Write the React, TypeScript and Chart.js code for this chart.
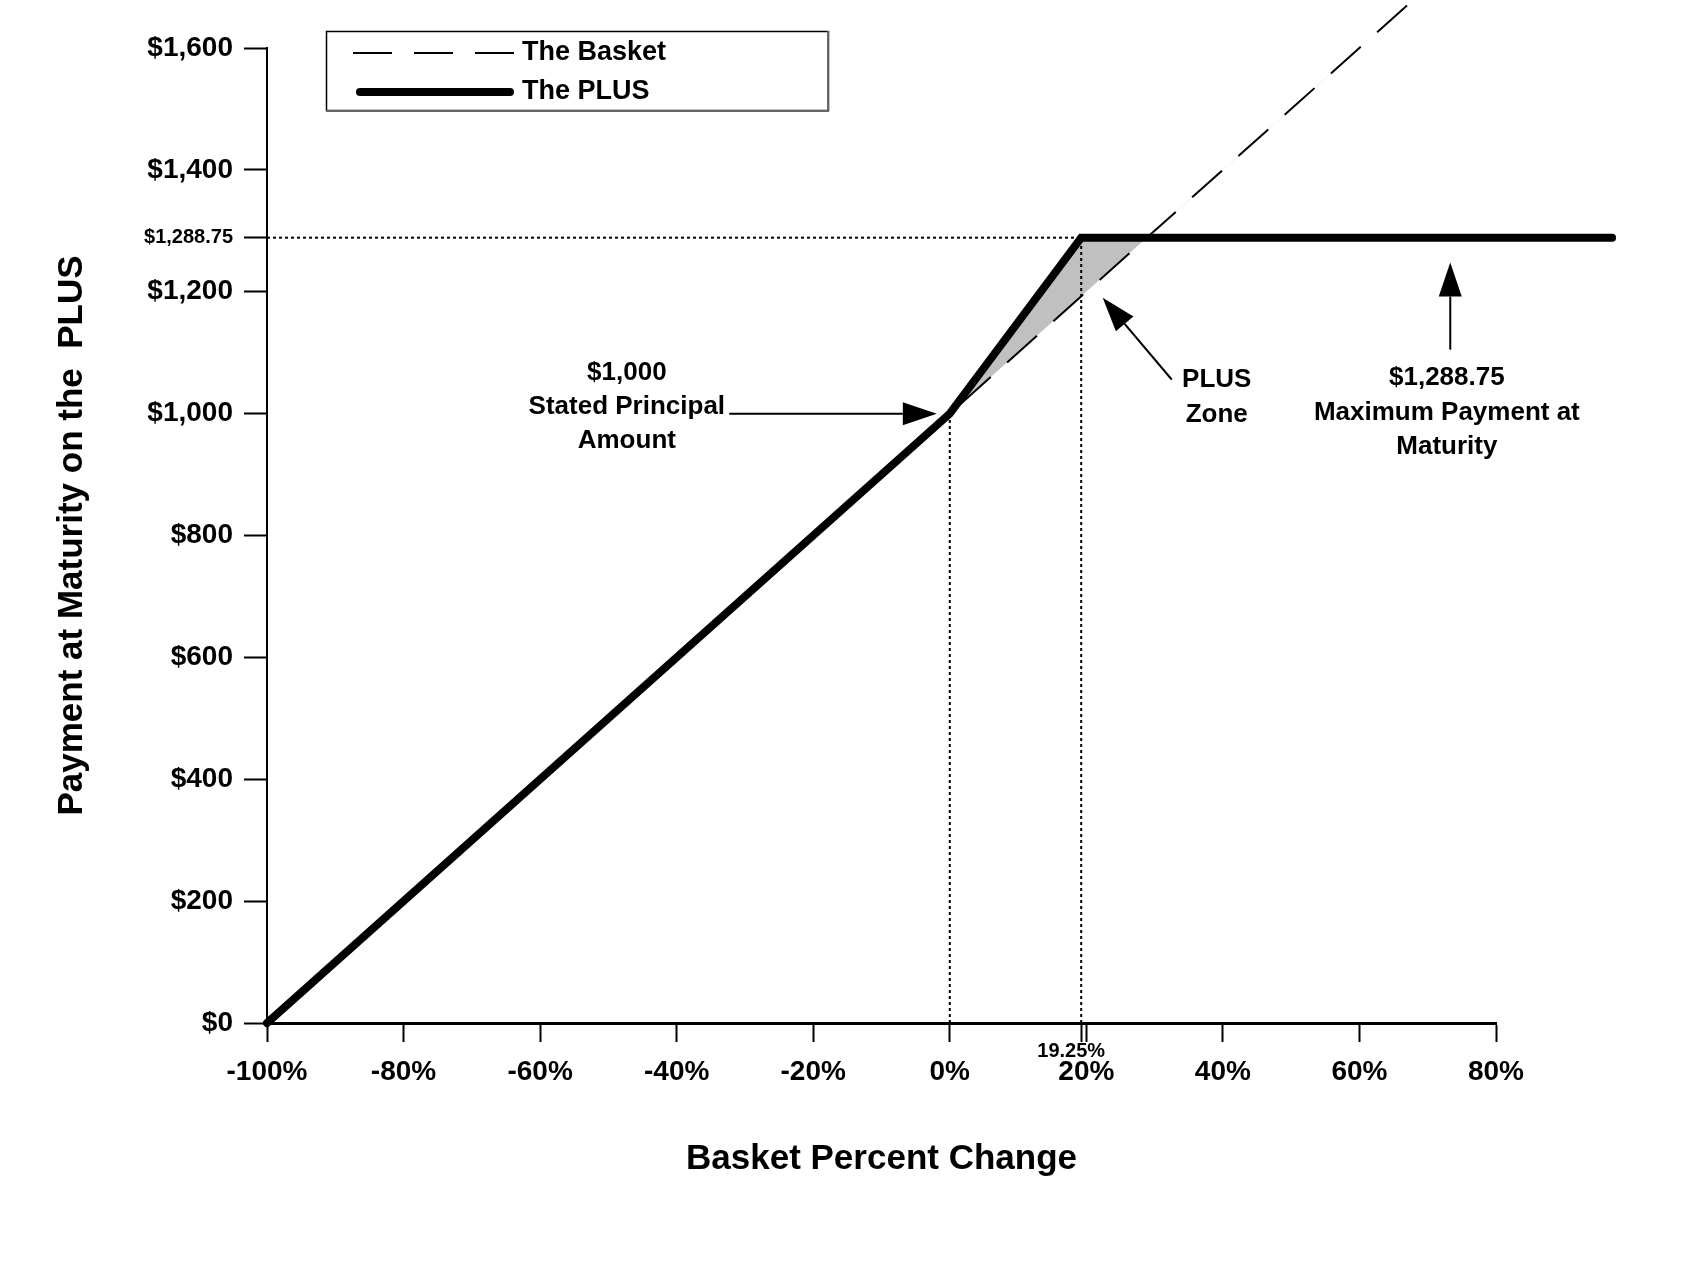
import React, { useEffect, useRef } from 'react';
import { Chart, registerables, Plugin } from 'chart.js';

Chart.register(...registerables);

const FONT = '"Liberation Sans", Arial, sans-serif';

// axis ticks
const pctTicks = [-100, -80, -60, -40, -20, 0, 20, 40, 60, 80];
const paymentTicks = [0, 200, 400, 600, 800, 1000, 1200, 1400, 1600];

// key levels
const principal = 1000;
const capPct = 19.25;
const capPayment = 1288.75;

// series
const basketPct = [-100, 0, 100];
const basketPayment = [0, 1000, 2000];
const plusPct = [-100, 0, 19.25, 97];
const plusPayment = [0, 1000, 1288.75, 1288.75];

// dotted guide lines
const capGuidePct = [-100, capPct];
const capGuidePayment = [capPayment, capPayment];
const zeroGuidePct = [0, 0];
const zeroGuidePayment = [0, principal];
const capPctGuidePct = [capPct, capPct];
const capPctGuidePayment = [0, capPayment];

const xTickValues = [...pctTicks, capPct].sort((a, b) => a - b);
const yTickValues = [...paymentTicks, capPayment].sort((a, b) => a - b);

const zip = (xs: number[], ys: number[]) => xs.map((x, i) => ({ x, y: ys[i] }));

function drawArrow(ctx: CanvasRenderingContext2D, x1: number, y1: number, x2: number, y2: number) {
    const ang = Math.atan2(y2 - y1, x2 - x1);
    const len = 34;
    const half = 11.5;
    const bx = x2 - len * Math.cos(ang);
    const by = y2 - len * Math.sin(ang);
    ctx.lineWidth = 2;
    ctx.beginPath();
    ctx.moveTo(x1, y1);
    ctx.lineTo(bx, by);
    ctx.stroke();
    ctx.beginPath();
    ctx.moveTo(x2, y2);
    ctx.lineTo(bx - half * Math.sin(ang), by + half * Math.cos(ang));
    ctx.lineTo(bx + half * Math.sin(ang), by - half * Math.cos(ang));
    ctx.closePath();
    ctx.fill();
}

function drawLines(ctx: CanvasRenderingContext2D, lines: string[], cx: number, cy: number, step: number) {
    const start = cy - ((lines.length - 1) * step) / 2;
    lines.forEach((t, i) => ctx.fillText(t, cx, start + i * step));
}

const overlayPlugin: Plugin<'line'> = {
    id: 'overlay',
    afterDraw(chart) {
        const { ctx } = chart;
        const x = chart.scales.x;
        const y = chart.scales.y;
        const px = (v: number) => x.getPixelForValue(v);
        const py = (v: number) => y.getPixelForValue(v);

        ctx.save();
        ctx.fillStyle = '#000';
        ctx.strokeStyle = '#000';

        // arrows
        drawArrow(ctx, px(-32.3), py(principal), px(-1.9), py(principal));
        drawArrow(ctx, px(32.5), py(1056), px(22.4), py(1190));
        drawArrow(ctx, px(73.3), py(1105), px(73.3), py(1248));

        // annotation text
        ctx.font = `bold 26px ${FONT}`;
        ctx.textAlign = 'center';
        ctx.textBaseline = 'middle';
        drawLines(ctx, ['$1,000', 'Stated Principal', 'Amount'], px(-47.3), py(1011), 34);
        drawLines(ctx, ['PLUS', 'Zone'], px(39.1), py(1027), 35);
        drawLines(ctx, ['$1,288.75', 'Maximum Payment at', 'Maturity'], px(72.8), py(1002), 34.5);

        // small label for the cap percentage
        ctx.font = `bold 20px ${FONT}`;
        ctx.fillText('19.25%', px(capPct) - 10, 1051);

        // legend box
        ctx.lineWidth = 1.5;
        ctx.strokeStyle = '#000';
        ctx.strokeRect(326.5, 31.5, 502, 79);
        ctx.strokeStyle = '#666';
        ctx.lineWidth = 2;
        ctx.beginPath();
        ctx.moveTo(828, 31);
        ctx.lineTo(828, 111);
        ctx.lineTo(326, 111);
        ctx.stroke();

        const ds = chart.data.datasets;
        ctx.strokeStyle = '#000';
        ctx.lineWidth = 2;
        ctx.setLineDash([39, 22]);
        ctx.beginPath();
        ctx.moveTo(353, 53);
        ctx.lineTo(514, 53);
        ctx.stroke();
        ctx.setLineDash([]);
        ctx.lineWidth = 8;
        ctx.lineCap = 'round';
        ctx.beginPath();
        ctx.moveTo(360, 92);
        ctx.lineTo(510, 92);
        ctx.stroke();

        ctx.font = `bold 27px ${FONT}`;
        ctx.textAlign = 'left';
        ctx.fillText(String(ds[1].label), 522, 53);
        ctx.fillText(String(ds[0].label), 522, 92);
        ctx.restore();
    },
};

const PlusChart: React.FC = () => {
    const canvasRef = useRef<HTMLCanvasElement>(null);
    const chartRef = useRef<Chart | null>(null);

    useEffect(() => {
        document.body.style.margin = '0';
        if (!canvasRef.current) return;
        if (chartRef.current) chartRef.current.destroy();

        const guide = {
            borderColor: '#000',
            borderWidth: 2,
            borderDash: [3, 3],
            pointRadius: 0,
            fill: false,
        };

        chartRef.current = new Chart(canvasRef.current, {
            type: 'line',
            data: {
                datasets: [
                    {
                        label: 'The PLUS',
                        data: zip(plusPct, plusPayment),
                        borderColor: '#000',
                        borderWidth: 8,
                        borderJoinStyle: 'miter',
                        borderCapStyle: 'round',
                        pointRadius: 0,
                        clip: false,
                        fill: { target: 1, above: '#c0c0c0', below: 'rgba(0,0,0,0)' },
                    },
                    {
                        label: 'The Basket',
                        data: zip(basketPct, basketPayment),
                        borderColor: '#000',
                        borderWidth: 2,
                        borderDash: [40, 22],
                        pointRadius: 0,
                        clip: false,
                        fill: false,
                    },
                    { label: 'cap', data: zip(capGuidePct, capGuidePayment), ...guide },
                    { label: 'zero', data: zip(zeroGuidePct, zeroGuidePayment), ...guide },
                    { label: 'capPct', data: zip(capPctGuidePct, capPctGuidePayment), ...guide },
                ],
            },
            options: {
                responsive: false,
                animation: false,
                devicePixelRatio: 1,
                layout: { padding: { left: 0, top: 48, right: 199, bottom: 0 } },
                plugins: {
                    legend: { display: false },
                    tooltip: { enabled: false },
                    filler: { drawTime: 'beforeDatasetsDraw' },
                },
                scales: {
                    x: {
                        type: 'linear',
                        min: -100,
                        max: 80,
                        afterBuildTicks: (s) => {
                            s.ticks = xTickValues.map((value) => ({ value }));
                        },
                        afterFit: (s) => {
                            s.height = 259;
                        },
                        border: { display: true, color: '#000', width: 3 },
                        grid: { drawOnChartArea: false, drawTicks: true, tickLength: 19, tickWidth: 2, tickColor: '#000' },
                        ticks: {
                            autoSkip: false,
                            maxRotation: 0,
                            padding: 13,
                            color: '#000',
                            font: { family: FONT, size: 28, weight: 'bold' },
                            callback: (v) => (Number(v) === capPct ? '' : `${v}%`),
                        },
                        title: {
                            display: true,
                            text: 'Basket Percent Change',
                            color: '#000',
                            font: { family: FONT, size: 35, weight: 'bold' },
                            padding: { top: 0, bottom: 102 },
                        },
                    },
                    y: {
                        type: 'linear',
                        min: 0,
                        max: 1600,
                        afterBuildTicks: (s) => {
                            s.ticks = yTickValues.map((value) => ({ value }));
                        },
                        afterFit: (s) => {
                            s.width = 267;
                        },
                        border: { display: true, color: '#000', width: 2 },
                        grid: { drawOnChartArea: false, drawTicks: true, tickLength: 23, tickWidth: 2, tickColor: '#000' },
                        ticks: {
                            padding: 11,
                            color: '#000',
                            font: (c: any) =>
                                c.tick && c.tick.value === capPayment
                                    ? { family: FONT, size: 20, weight: 'bold' }
                                    : { family: FONT, size: 28, weight: 'bold' },
                            callback: (v) =>
                                Number(v) === capPayment ? '$1,288.75' : '$' + Number(v).toLocaleString('en-US'),
                        },
                        title: {
                            display: true,
                            text: 'Payment at Maturity on the  PLUS',
                            color: '#000',
                            font: { family: FONT, size: 35, weight: 'bold' },
                            padding: { top: 51, bottom: 0 },
                        },
                    },
                },
            },
            plugins: [overlayPlugin],
        });

        return () => {
            if (chartRef.current) {
                chartRef.current.destroy();
                chartRef.current = null;
            }
        };
    }, []);

    return <canvas ref={canvasRef} width={1695} height={1282} style={{ display: 'block' }}></canvas>;
};

export default function App() {
    return <PlusChart />;
}
